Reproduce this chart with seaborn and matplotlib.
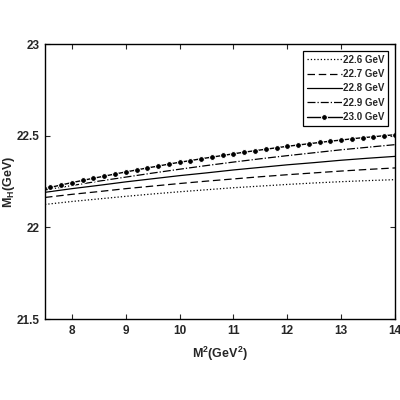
import numpy as np
import pandas as pd
import matplotlib
matplotlib.use("Agg")
import matplotlib.pyplot as plt
import seaborn as sns

# Borel parameter grid (GeV^2)
m2_grid = [7.5, 8.0, 8.5, 9.0, 9.5, 10.0, 10.5, 11.0, 11.5, 12.0, 12.5, 13.0, 13.5, 14.0]

# hadron mass for the different threshold values (GeV)
mh_226 = [22.125, 22.141, 22.155, 22.169, 22.182, 22.194, 22.205, 22.216, 22.225, 22.234, 22.242, 22.249, 22.255, 22.260]
mh_227 = [22.163, 22.180, 22.195, 22.211, 22.225, 22.239, 22.252, 22.264, 22.276, 22.287, 22.297, 22.307, 22.316, 22.324]
mh_228 = [22.191, 22.211, 22.229, 22.248, 22.265, 22.282, 22.297, 22.313, 22.327, 22.341, 22.353, 22.366, 22.377, 22.387]
mh_229 = [22.204, 22.228, 22.252, 22.274, 22.296, 22.317, 22.337, 22.356, 22.374, 22.391, 22.407, 22.423, 22.437, 22.451]

# 23.0 GeV curve on the finer grid (markers)
m2_fine = [7.5, 7.6, 7.8, 8.0, 8.2, 8.4, 8.6, 8.8, 9.0, 9.2, 9.4, 9.6, 9.8, 10.0, 10.2, 10.4, 10.6,
           10.8, 11.0, 11.2, 11.4, 11.6, 11.8, 12.0, 12.2, 12.4, 12.6, 12.8, 13.0, 13.2, 13.4, 13.6, 13.8, 14.0]
mh_230 = [22.212, 22.218, 22.231, 22.244, 22.256, 22.268, 22.279, 22.291, 22.302, 22.313, 22.324, 22.334,
          22.345, 22.355, 22.364, 22.374, 22.383, 22.392, 22.401, 22.410, 22.418, 22.426, 22.434, 22.442,
          22.449, 22.456, 22.463, 22.470, 22.476, 22.483, 22.489, 22.494, 22.500, 22.505]

labels = ['22.6 GeV', '22.7 GeV', '22.8 GeV', '22.9 GeV', '23.0 GeV']

sns.set_style("ticks")
plt.rcParams['font.family'] = ['Liberation Sans', 'DejaVu Sans']
plt.rcParams['font.weight'] = 'bold'
plt.rcParams['mathtext.fontset'] = 'custom'
plt.rcParams['mathtext.rm'] = 'Liberation Sans:bold'
plt.rcParams['mathtext.bf'] = 'Liberation Sans:bold'
plt.rcParams['mathtext.default'] = 'rm'

fig = plt.figure(figsize=(4, 4), dpi=100)
ax = fig.add_axes([0.1125, 0.2025, 0.875, 0.6875])

coarse = [(mh_226, ':'), (mh_227, (0, (6, 3))), (mh_228, '-'), (mh_229, '-.')]
for (vals, ls), lab in zip(coarse, labels[:4]):
    df = pd.DataFrame({'M2': m2_grid, 'MH': vals})
    sns.lineplot(data=df, x='M2', y='MH', ax=ax, color='black', linestyle=ls,
                 linewidth=0.9, label=lab)

df30 = pd.DataFrame({'M2': m2_fine, 'MH': mh_230})
sns.lineplot(data=df30, x='M2', y='MH', ax=ax, color='black', linewidth=1.0,
             marker='o', markersize=4.2, markevery=slice(1, None), label=labels[4])

ax.set_xlim(7.5, 14)
ax.set_ylim(21.5, 23)
ax.set_xticks([8, 9, 10, 11, 12, 13, 14])
ax.set_yticks([21.5, 22, 22.5, 23])
ax.set_yticklabels(['21.5', '22', '22.5', '23'])
ax.tick_params(direction='in', top=True, right=True, length=3.5, width=0.8,
               labelsize=8.5, pad=4)
for lbl in ax.get_xticklabels() + ax.get_yticklabels():
    lbl.set_fontweight('bold')
for sp in ax.spines.values():
    sp.set_linewidth(1.0)
    sp.set_color('black')

ax.set_xlabel(r'M$^{2}$(GeV$^{2}$)', fontsize=9, fontweight='bold', labelpad=6)
ax.set_ylabel(r'M$_{H}$(GeV)', fontsize=9, fontweight='bold')
ax.yaxis.set_label_coords(-0.08, 0.5)

leg = ax.legend(loc='upper right', fontsize=7, frameon=True, fancybox=False,
                framealpha=1, edgecolor='black', handlelength=3.6,
                handletextpad=0.1, labelspacing=0.45, borderpad=0.4,
                borderaxespad=0.7)
leg.get_frame().set_linewidth(0.9)
for t in leg.get_texts():
    t.set_fontweight('bold')

fig.savefig('out.png', dpi=100)
